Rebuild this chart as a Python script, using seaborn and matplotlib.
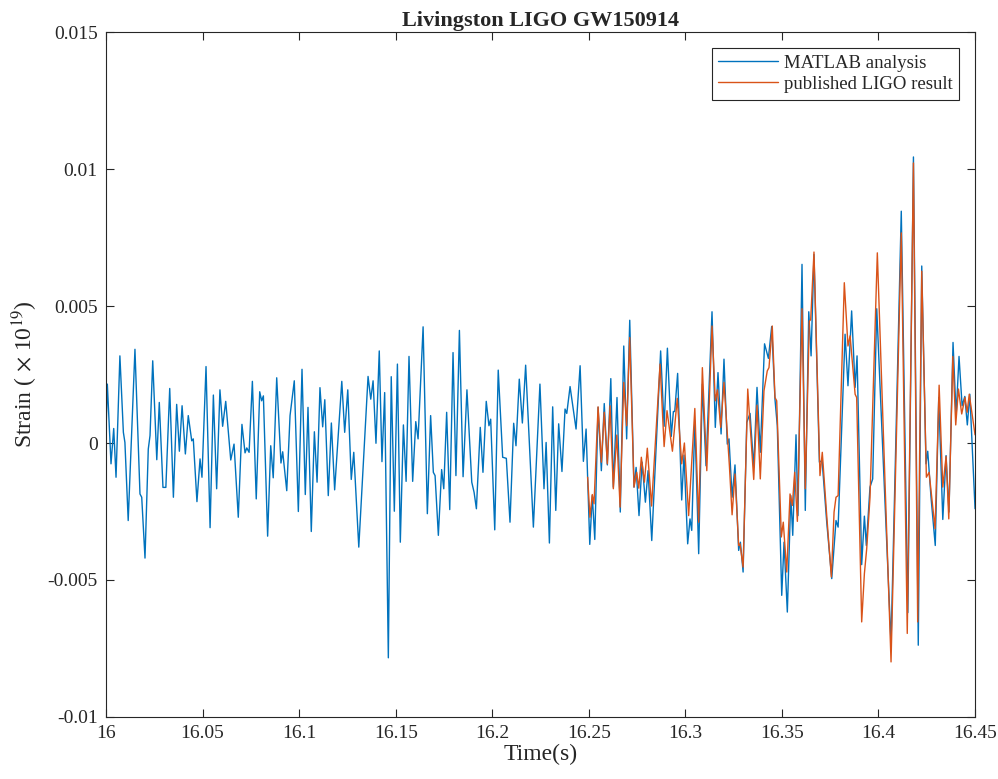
import numpy as np
import pandas as pd
import matplotlib
matplotlib.use("Agg")
import matplotlib.pyplot as plt
import seaborn as sns

# ---- data (strain in units of 1e-3 of the plotted scale) ----
matlab_t = [16.0000, 16.0007, 16.0026, 16.0040, 16.0052, 16.0072, 16.0090, 16.0098, 16.0115, 16.0150,
            16.0176, 16.0185, 16.0202, 16.0219, 16.0228, 16.0242, 16.0263, 16.0276, 16.0295, 16.0310,
            16.0330, 16.0349, 16.0366, 16.0380, 16.0394, 16.0411, 16.0426, 16.0444, 16.0452, 16.0471,
            16.0487, 16.0497, 16.0518, 16.0539, 16.0556, 16.0573, 16.0590, 16.0604, 16.0620, 16.0646,
            16.0663, 16.0685, 16.0704, 16.0720, 16.0729, 16.0741, 16.0758, 16.0778, 16.0796, 16.0806,
            16.0815, 16.0837, 16.0853, 16.0866, 16.0884, 16.0906, 16.0915, 16.0936, 16.0953, 16.0975,
            16.0996, 16.1015, 16.1032, 16.1046, 16.1063, 16.1079, 16.1093, 16.1108, 16.1122, 16.1133,
            16.1151, 16.1167, 16.1184, 16.1221, 16.1236, 16.1252, 16.1270, 16.1283, 16.1309, 16.1357,
            16.1371, 16.1383, 16.1398, 16.1415, 16.1429, 16.1443, 16.1462, 16.1477, 16.1493, 16.1509,
            16.1524, 16.1540, 16.1554, 16.1569, 16.1588, 16.1604, 16.1616, 16.1642, 16.1664, 16.1681,
            16.1695, 16.1704, 16.1721, 16.1738, 16.1749, 16.1764, 16.1780, 16.1797, 16.1812, 16.1830,
            16.1849, 16.1869, 16.1894, 16.1906, 16.1918, 16.1938, 16.1952, 16.1969, 16.1983, 16.1992,
            16.2013, 16.2031, 16.2054, 16.2073, 16.2092, 16.2111, 16.2123, 16.2140, 16.2156, 16.2173,
            16.2213, 16.2247, 16.2268, 16.2279, 16.2296, 16.2313, 16.2329, 16.2344, 16.2361, 16.2377,
            16.2386, 16.2403, 16.2434, 16.2455, 16.2472, 16.2486, 16.2505, 16.2518, 16.2531, 16.2548,
            16.2565, 16.2580, 16.2596, 16.2614, 16.2627, 16.2646, 16.2663, 16.2681, 16.2696, 16.2712,
            16.2734, 16.2745, 16.2760, 16.2776, 16.2793, 16.2807, 16.2826, 16.2872, 16.2890, 16.2907,
            16.2927, 16.2938, 16.2945, 16.2960, 16.2981, 16.2993, 16.3012, 16.3024, 16.3033, 16.3049,
            16.3069, 16.3088, 16.3107, 16.3138, 16.3155, 16.3169, 16.3185, 16.3200, 16.3217, 16.3226,
            16.3242, 16.3257, 16.3276, 16.3285, 16.3299, 16.3318, 16.3335, 16.3354, 16.3371, 16.3388,
            16.3410, 16.3430, 16.3447, 16.3464, 16.3476, 16.3499, 16.3511, 16.3528, 16.3546, 16.3556,
            16.3573, 16.3583, 16.3604, 16.3621, 16.3639, 16.3651, 16.3666, 16.3694, 16.3708, 16.3732,
            16.3758, 16.3780, 16.3791, 16.3827, 16.3842, 16.3861, 16.3879, 16.3889, 16.3913, 16.3927,
            16.3937, 16.3956, 16.3970, 16.3991, 16.4065, 16.4118, 16.4152, 16.4181, 16.4206, 16.4224,
            16.4246, 16.4255, 16.4272, 16.4294, 16.4312, 16.4333, 16.4350, 16.4365, 16.4386, 16.4402,
            16.4417, 16.4433, 16.4447, 16.4460, 16.4473, 16.4500]
matlab_v = [0.39, 2.15, -0.76, 0.53, -1.25, 3.18, 0.39, 0.02, -2.83, 3.42,
            -1.86, -1.98, -4.20, -0.22, 0.27, 3.00, -0.61, 1.48, -1.62, -1.62,
            1.99, -1.98, 1.41, -0.30, 1.36, -0.40, 1.00, 0.08, 0.15, -2.14,
            -0.58, -1.25, 2.79, -3.09, 1.75, -1.67, 1.94, 0.61, 1.52, -0.62,
            -0.04, -2.71, 0.68, -0.36, -0.18, -0.34, 2.25, -2.04, 1.87, 1.54,
            1.72, -3.40, -0.10, -1.27, 2.38, -0.73, -0.32, -1.74, 1.00, 2.27,
            -2.50, 2.69, -1.88, 1.30, -3.23, 0.41, -1.43, 2.02, 0.59, 1.58,
            -1.92, 0.73, -1.71, 2.25, 0.39, 1.94, -1.33, -0.34, -3.80, 2.43,
            1.60, 2.27, -0.01, 3.36, -0.68, 1.84, -7.84, 2.42, -2.49, 2.88,
            -3.62, 0.66, -1.40, 3.16, -1.40, 0.78, 0.15, 4.24, -2.58, 1.00,
            -1.07, -1.19, -3.37, -0.97, -1.67, 1.12, -2.43, 3.30, -1.19, 4.11,
            -1.23, 1.94, -1.43, -1.80, -2.40, 0.57, -1.07, 1.52, 0.63, 0.87,
            -3.17, 2.66, -0.52, -0.56, -2.89, 0.72, -0.10, 2.33, 0.73, 2.84,
            -3.07, 2.15, -1.67, 0.02, -3.65, 1.32, -2.46, 0.70, -1.04, 1.24,
            1.08, 2.06, 0.51, 2.82, -0.67, 0.51, -3.70, -1.92, -3.52, 1.30,
            -1.01, 1.44, -0.80, 2.35, -1.61, 1.66, -2.52, 3.54, 0.15, 4.48,
            -1.61, -0.89, -2.65, -0.70, -2.16, -1.01, -3.56, 3.36, 0.61, 3.46,
            0.24, 1.15, 1.15, 2.54, -2.08, -0.44, -3.68, -2.77, -3.19, 0.81,
            -4.04, 2.15, -0.83, 4.79, 0.57, 2.57, 0.33, 3.06, -0.04, 0.15,
            -1.98, -0.80, -3.92, -3.62, -4.71, 0.75, 1.08, -0.89, 2.03, -0.34,
            3.62, 3.09, 4.25, 1.60, 0.63, -5.56, -3.62, -6.17, -1.92, -3.37,
            0.30, -2.65, 6.52, -2.46, 4.79, 3.18, 6.88, -0.70, -0.64, -2.89,
            -4.95, -2.83, -3.07, 3.97, 2.09, 4.82, 2.03, 3.18, -4.44, -2.67,
            -3.74, -1.61, -1.31, 4.90, -7.32, 8.46, -6.19, 10.44, -7.38, 6.46,
            -0.76, -0.30, -1.98, -3.74, 1.66, -2.79, -0.46, -2.52, 3.67, 1.00,
            3.16, 1.36, 1.70, 0.66, 1.78, -2.40]

ligo_t = [16.2494, 16.2506, 16.2518, 16.2527, 16.2548, 16.2565, 16.2580, 16.2596, 16.2610, 16.2627,
          16.2645, 16.2662, 16.2681, 16.2696, 16.2712, 16.2734, 16.2748, 16.2759, 16.2772, 16.2788,
          16.2803, 16.2825, 16.2869, 16.2890, 16.2905, 16.2933, 16.2958, 16.2981, 16.2995, 16.3017,
          16.3049, 16.3069, 16.3088, 16.3111, 16.3138, 16.3155, 16.3166, 16.3183, 16.3200, 16.3228,
          16.3242, 16.3257, 16.3276, 16.3283, 16.3299, 16.3323, 16.3354, 16.3371, 16.3388, 16.3407,
          16.3424, 16.3433, 16.3450, 16.3464, 16.3473, 16.3497, 16.3507, 16.3525, 16.3542, 16.3554,
          16.3566, 16.3580, 16.3604, 16.3621, 16.3642, 16.3649, 16.3666, 16.3697, 16.3709, 16.3732,
          16.3756, 16.3770, 16.3780, 16.3791, 16.3823, 16.3842, 16.3853, 16.3879, 16.3887, 16.3913,
          16.3927, 16.3939, 16.3956, 16.3994, 16.4065, 16.4118, 16.4149, 16.4181, 16.4203, 16.4224,
          16.4248, 16.4262, 16.4293, 16.4314, 16.4333, 16.4350, 16.4364, 16.4385, 16.4400, 16.4414,
          16.4431, 16.4448, 16.4459, 16.4470, 16.4500]
ligo_v = [-1.25, -2.71, -1.88, -2.22, 1.32, -0.70, 1.12, -0.76, 1.36, -1.67,
          0.29, -2.34, 2.21, 0.63, 3.85, -1.61, -1.07, -1.65, -0.52, -1.43,
          -0.19, -2.30, 2.88, -0.13, 1.18, -0.30, 1.63, -0.76, 0.00, -2.65,
          1.26, -2.89, 2.75, -1.01, 4.27, 1.54, 1.94, 0.57, 2.21, -0.83,
          -2.62, -1.13, -3.74, -3.68, -4.53, 1.97, -1.33, 1.38, -1.31, 1.90,
          2.63, 2.75, 4.27, 1.66, 1.54, -3.43, -2.89, -4.71, -1.86, -2.28,
          -1.07, -2.86, 4.90, -1.67, 4.45, 4.50, 6.97, -1.19, -0.34, -2.65,
          -4.89, -2.52, -1.98, -1.92, 5.85, 3.54, 3.91, 1.78, 1.66, -6.53,
          -4.77, -3.86, -2.00, 6.94, -7.99, 7.67, -6.95, 10.22, -6.53, 6.27,
          -1.25, -1.07, -3.13, 2.11, -1.61, -0.49, -2.77, 3.16, 0.66, 1.97,
          1.06, 1.66, 1.12, 1.78, 0.30]

x_ticks = [16.0, 16.05, 16.1, 16.15, 16.2, 16.25, 16.3, 16.35, 16.4, 16.45]
x_tick_labels = ["16", "16.05", "16.1", "16.15", "16.2", "16.25", "16.3", "16.35", "16.4", "16.45"]
y_ticks = [-0.01, -0.005, 0.0, 0.005, 0.01, 0.015]
y_tick_labels = ["-0.01", "-0.005", "0", "0.005", "0.01", "0.015"]

series_names = ["MATLAB analysis", "published LIGO result"]

df_m = pd.DataFrame({"Time": matlab_t, "Strain": np.array(matlab_v) * 1e-3})
df_l = pd.DataFrame({"Time": ligo_t, "Strain": np.array(ligo_v) * 1e-3})

sns.set_style("ticks")
plt.rcParams["font.family"] = ["Liberation Serif", "DejaVu Serif"]
plt.rcParams["mathtext.fontset"] = "stix"

fig = plt.figure(figsize=(9.98, 7.79), dpi=100)
ax = fig.add_axes([0.1062, 0.0796, 0.977 - 0.1062, 0.9589 - 0.0796])

sns.lineplot(data=df_m, x="Time", y="Strain", ax=ax, color="#0072BD",
             linewidth=1.0, estimator=None, sort=False, label=series_names[0])
sns.lineplot(data=df_l, x="Time", y="Strain", ax=ax, color="#D95319",
             linewidth=1.0, estimator=None, sort=False, label=series_names[1])

ax.set_xlim(16.0, 16.45)
ax.set_ylim(-0.01, 0.015)
ax.set_xticks(x_ticks)
ax.set_xticklabels(x_tick_labels)
ax.set_yticks(y_ticks)
ax.set_yticklabels(y_tick_labels)
ax.tick_params(direction="in", length=6, width=0.8, top=True, right=True,
               labelsize=14, colors="#262626", pad=6)
for s in ax.spines.values():
    s.set_visible(True)
    s.set_linewidth(0.8)
    s.set_color("#262626")

ax.set_xlabel("Time(s)", fontsize=17, labelpad=1)
ax.set_ylabel("Strain ( $\\times$ 10$^{19}$)", fontsize=17, labelpad=5)
ax.set_title("Livingston LIGO GW150914", fontsize=16, fontweight="bold", pad=4)

leg = ax.legend(loc="upper right", bbox_to_anchor=(0.9816, 0.9766), borderaxespad=0,
                fontsize=13.5, frameon=True, fancybox=False,
                edgecolor="#262626", framealpha=1,
                handlelength=3.2, handletextpad=0.3, borderpad=0.35, labelspacing=0.22)
leg.get_frame().set_linewidth(0.8)

fig.savefig("out.png", dpi=100)
